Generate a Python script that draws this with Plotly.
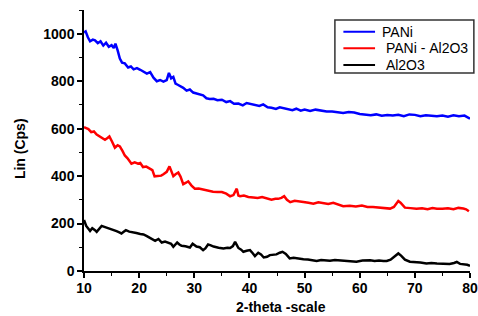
import plotly.graph_objects as go

pani_x = [10, 10.3, 10.7, 11.1, 11.6, 12.0, 12.5, 13.0, 13.5, 14.0,
          14.5, 15.0, 15.4, 15.7, 16.1, 16.5, 16.9, 17.4, 18.0, 18.5,
          19.0, 19.6, 20.2, 20.8, 21.4, 22.0, 22.6, 23.2, 23.8, 24.4,
          25.0, 25.4, 25.8, 26.2, 26.6, 27.0, 27.5, 28.0, 28.6, 29.2,
          29.8, 30.4, 31.0, 31.6, 32.2, 32.8, 33.5, 34.2, 35.0, 35.8,
          36.5, 37.2, 38.0, 38.8, 39.5, 40.3, 41.0, 41.8, 42.5, 43.3,
          44.0, 44.8, 45.5, 46.3, 47.0, 47.8, 48.5, 49.3, 50.0, 51,
          52, 53, 54, 55, 56, 57, 58, 59, 60, 61,
          62, 63, 64, 65, 66, 67, 68, 69, 70, 71,
          72, 73, 74, 75, 76, 77, 78, 79, 79.6, 80]
pani_y = [1005, 1010, 985, 968, 975, 972, 960, 968, 950, 962,
          945, 952, 940, 958, 930, 895, 878, 875, 858, 862,
          850, 855, 848, 840, 832, 838, 815, 800, 805, 798,
          805, 835, 812, 818, 790, 785, 780, 772, 760, 765,
          752, 748, 746, 740, 728, 725, 726, 720, 722, 712,
          716, 705, 706, 698, 708, 704, 700, 696, 702, 690,
          688, 683, 690, 685, 680, 678, 684, 676, 680, 674,
          680, 676, 672, 672, 668, 666, 670, 668, 662, 660,
          656, 660, 654, 657, 655, 658, 652, 660, 658, 652,
          656, 654, 652, 655, 650, 656, 652, 655, 648, 642]

pal_x = [10, 10.4, 10.8, 11.3, 11.8, 12.3, 12.9, 13.4, 13.8, 14.2,
         14.6, 15.1, 15.6, 16.1, 16.5, 17.0, 17.4, 17.9, 18.6, 19.2,
         19.8, 20.2, 20.7, 21.3, 22.0, 22.4, 22.8, 23.4, 24.0, 24.4,
         25.0, 25.5, 25.9, 26.2, 26.6, 27.1, 27.5, 28.0, 28.5, 28.9,
         29.5, 30.1, 30.8, 31.6, 32.5, 33.4, 34.2, 35.0, 35.8, 36.5,
         37.1, 37.5, 37.7, 38.0, 38.3, 39.0, 39.8, 40.7, 41.5, 42.3,
         43.1, 44.0, 44.7, 45.2, 45.8, 46.3, 46.8, 47.4, 48.2, 49.0,
         49.8, 50.7, 51.6, 52.5, 53.4, 54.3, 55.2, 56.1, 57.0, 58.2,
         59.3, 60.4, 61.4, 62.4, 63.4, 64.5, 65.5, 66.2, 66.7, 67.0,
         67.4, 68.2, 69.2, 70.3, 71.3, 72.3, 73.2, 74.0, 75.0, 76.0,
         77.0, 77.9, 78.8, 79.3, 79.8]
pal_y = [606, 602, 598, 585, 588, 575, 567, 560, 553, 560,
         567, 545, 520, 530, 525, 505, 487, 475, 452, 458,
         452, 455, 438, 440, 428, 425, 399, 400, 402, 408,
         418, 441, 420, 400, 408, 415, 398, 366, 372, 378,
         360, 347, 348, 343, 337, 334, 333, 333, 326, 315,
         320, 335, 347, 318, 315, 318, 312, 310, 308, 312,
         306, 300, 304, 304, 308, 315, 300, 290, 296, 292,
         291, 288, 284, 290, 286, 282, 287, 280, 273, 275,
         272, 276, 270, 270, 268, 266, 263, 270, 285, 295,
         288, 267, 265, 262, 264, 260, 265, 262, 262, 264,
         260, 266, 263, 260, 252]

al_x = [10, 10.4, 10.8, 11.1, 11.5, 11.7, 12.0, 12.3, 12.7, 13.2,
        13.7, 14.2, 14.7, 15.3, 15.9, 16.5, 16.8, 17.2, 17.6, 18.2,
        18.8, 19.5, 20.2, 20.8, 21.4, 22.0, 22.5, 22.9, 23.5, 24.1,
        24.7, 25.3, 25.8, 26.2, 26.9, 27.3, 27.7, 28.4, 29.2, 29.7,
        30.4, 31.0, 31.6, 32.0, 32.5, 33.0, 33.5, 34.4, 35.3, 36.0,
        36.5, 37.0, 37.4, 37.7, 38.0, 38.5, 38.9, 39.5, 40.1, 40.6,
        41.0, 41.6, 42.1, 42.6, 43.2, 43.7, 44.3, 44.9, 45.5, 46.0,
        46.6, 47.3, 48.0, 48.9, 49.8, 50.6, 51.4, 52.2, 53.0, 53.8,
        54.6, 55.5, 56.4, 57.3, 58.3, 59.4, 60.5, 61.3, 61.9, 62.7,
        63.5, 64.3, 64.9, 65.6, 66.3, 67.0, 67.5, 68.2, 69.1, 70.0,
        71.0, 72.1, 73.0, 74.0, 75.2, 76.3, 77.1, 77.6, 78.2, 79.0,
        79.5, 80.0]
al_y = [215, 190, 178, 169, 180, 178, 172, 165, 178, 190,
        186, 182, 180, 176, 168, 162, 158, 165, 172, 166,
        162, 160, 156, 154, 147, 140, 133, 127, 135, 120,
        124, 120, 115, 102, 120, 112, 106, 104, 99, 115,
        103, 100, 88, 95, 112, 108, 103, 98, 95, 98,
        97, 105, 123, 110, 97, 90, 81, 85, 88, 75,
        63, 77, 70, 57, 60, 67, 68, 70, 77, 81,
        72, 53, 56, 52, 50, 48, 45, 42, 46, 44,
        43, 46, 45, 42, 40, 39, 44, 46, 45, 42,
        44, 42, 42, 48, 62, 74, 65, 48, 39, 38,
        36, 32, 34, 32, 32, 30, 34, 38, 30, 28,
        26, 22]

names = ["PANi", " PANi - Al2O3", " Al2O3"]
colors = ["#0000FF", "#FF0000", "#000000"]
x_ticks = [10, 20, 30, 40, 50, 60, 70, 80]
y_ticks = [0, 200, 400, 600, 800, 1000]
x_title = "2-theta -scale"
y_title = "Lin (Cps)"

fig = go.Figure()
for xs, ys, nm, col in [(pani_x, pani_y, names[0], colors[0]),
                        (pal_x, pal_y, names[1], colors[1]),
                        (al_x, al_y, names[2], colors[2])]:
    fig.add_trace(go.Scatter(x=xs, y=ys, mode="lines", name=nm,
                             line=dict(color=col, width=2.5)))

font_family = "Liberation Sans, Arial, sans-serif"
axis_common = dict(showgrid=False, zeroline=False, showline=True,
                   linecolor="black", linewidth=1.5, ticks="outside",
                   ticklen=5, tickwidth=1.5, tickcolor="black",
                   automargin=False,
                   tickfont=dict(family=font_family, size=14, color="black",
                                 weight="bold"))

# legend box drawn in paper coordinates
box = dict(x0=0.650, x1=1.010, y0=0.759, y1=0.962)
row_y = [0.917, 0.853, 0.789]
line_x = (0.672, 0.754)
text_x = 0.767

shapes = [dict(type="rect", xref="paper", yref="paper", layer="above",
               line=dict(color="#333333", width=1.5), fillcolor="white",
               **box)]
annotations = []
for nm, col, ry in zip(names, colors, row_y):
    shapes.append(dict(type="line", xref="paper", yref="paper", layer="above",
                       x0=line_x[0], x1=line_x[1], y0=ry, y1=ry,
                       line=dict(color=col, width=2)))
    annotations.append(dict(text=nm.replace(" ", "&nbsp;"), xref="paper",
                            yref="paper", x=text_x, y=ry, xanchor="left",
                            yanchor="middle", showarrow=False,
                            font=dict(family=font_family, size=14,
                                      color="black")))

annotations += [
    dict(text=x_title, xref="paper", yref="paper", x=0.51, y=0,
         yshift=-36, xanchor="center", yanchor="middle", showarrow=False,
         font=dict(family=font_family, size=14, color="black",
                   weight="bold")),
    dict(text=y_title, xref="paper", yref="paper", x=0, y=0.467,
         xshift=-64, xanchor="center", yanchor="middle", showarrow=False,
         textangle=-90,
         font=dict(family=font_family, size=14, color="black",
                   weight="bold")),
]

fig.update_layout(
    width=478, height=316,
    margin=dict(l=84, r=8, t=10, b=45),
    paper_bgcolor="white", plot_bgcolor="white",
    font=dict(family=font_family, color="black"),
    showlegend=False,
    shapes=shapes,
    annotations=annotations,
)
fig.update_xaxes(range=[10, 80], tickvals=x_ticks,
                 ticktext=[str(v) for v in x_ticks], ticklabelstandoff=-2,
                 minor=dict(ticks="outside", ticklen=3, tickwidth=1.2,
                            tickcolor="black", showgrid=False,
                            dtick=5, tick0=5),
                 **axis_common)
fig.update_yaxes(range=[0, 1100], tickvals=y_ticks,
                 ticktext=[str(v) for v in y_ticks],
                 minor=dict(ticks="outside", ticklen=3, tickwidth=1.2,
                            tickcolor="black", showgrid=False,
                            dtick=100, tick0=100),
                 **axis_common)

fig.write_html("out.html", config={"displayModeBar": False},
               post_script="document.body.style.margin='0';"
                           "document.body.style.overflow='hidden';")
